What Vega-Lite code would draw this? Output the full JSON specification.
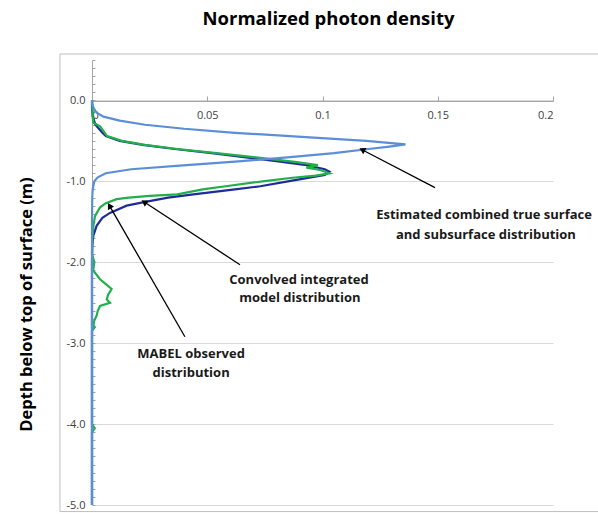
{
  "$schema": "https://vega.github.io/schema/vega-lite/v6.json",
  "width": 461,
  "height": 445,
  "autosize": "none",
  "padding": {"left": 92, "top": 60, "right": 45, "bottom": 9},
  "background": "white",
  "config": {"view": {"stroke": null}, "font": "Open Sans"},
  "title": {"text": "Normalized photon density", "font": "Open Sans", "fontSize": 18.5, "fontWeight": "bold", "color": "#000000", "anchor": "middle", "dx": 6, "offset": 25},
  "resolve": {"axis": {"x": "independent", "y": "independent"}},
  "datasets": {
    "curves": [
        {"series": "Estimated", "depth": 0, "density": 0},
        {"series": "Estimated", "depth": -0.05, "density": 0.0002},
        {"series": "Estimated", "depth": -0.1, "density": 0.0008},
        {"series": "Estimated", "depth": -0.15, "density": 0.002},
        {"series": "Estimated", "depth": -0.2, "density": 0.005},
        {"series": "Estimated", "depth": -0.25, "density": 0.012},
        {"series": "Estimated", "depth": -0.3, "density": 0.023},
        {"series": "Estimated", "depth": -0.35, "density": 0.04},
        {"series": "Estimated", "depth": -0.4, "density": 0.062},
        {"series": "Estimated", "depth": -0.45, "density": 0.091},
        {"series": "Estimated", "depth": -0.5, "density": 0.119},
        {"series": "Estimated", "depth": -0.543, "density": 0.136},
        {"series": "Estimated", "depth": -0.57, "density": 0.129},
        {"series": "Estimated", "depth": -0.6, "density": 0.12},
        {"series": "Estimated", "depth": -0.65, "density": 0.105},
        {"series": "Estimated", "depth": -0.7, "density": 0.086},
        {"series": "Estimated", "depth": -0.75, "density": 0.065},
        {"series": "Estimated", "depth": -0.8, "density": 0.041},
        {"series": "Estimated", "depth": -0.85, "density": 0.017},
        {"series": "Estimated", "depth": -0.9, "density": 0.006},
        {"series": "Estimated", "depth": -0.95, "density": 0.0025},
        {"series": "Estimated", "depth": -1.0, "density": 0.001},
        {"series": "Estimated", "depth": -1.1, "density": 0.0003},
        {"series": "Estimated", "depth": -1.2, "density": 0.0001},
        {"series": "Estimated", "depth": -1.5, "density": 0},
        {"series": "Estimated", "depth": -5.0, "density": 0},
        {"series": "Convolved", "depth": 0, "density": 0},
        {"series": "Convolved", "depth": -0.1, "density": 0},
        {"series": "Convolved", "depth": -0.2, "density": 0.0003},
        {"series": "Convolved", "depth": -0.3, "density": 0.0015},
        {"series": "Convolved", "depth": -0.35, "density": 0.003},
        {"series": "Convolved", "depth": -0.4, "density": 0.0045},
        {"series": "Convolved", "depth": -0.44, "density": 0.006},
        {"series": "Convolved", "depth": -0.5, "density": 0.012},
        {"series": "Convolved", "depth": -0.55, "density": 0.022},
        {"series": "Convolved", "depth": -0.6, "density": 0.036},
        {"series": "Convolved", "depth": -0.65, "density": 0.052},
        {"series": "Convolved", "depth": -0.7, "density": 0.066},
        {"series": "Convolved", "depth": -0.75, "density": 0.08},
        {"series": "Convolved", "depth": -0.8, "density": 0.093},
        {"series": "Convolved", "depth": -0.85, "density": 0.101},
        {"series": "Convolved", "depth": -0.88, "density": 0.103},
        {"series": "Convolved", "depth": -0.92, "density": 0.101},
        {"series": "Convolved", "depth": -0.96, "density": 0.093},
        {"series": "Convolved", "depth": -1.0, "density": 0.085},
        {"series": "Convolved", "depth": -1.06, "density": 0.073},
        {"series": "Convolved", "depth": -1.1, "density": 0.062},
        {"series": "Convolved", "depth": -1.16, "density": 0.044},
        {"series": "Convolved", "depth": -1.2, "density": 0.033},
        {"series": "Convolved", "depth": -1.26, "density": 0.022},
        {"series": "Convolved", "depth": -1.3, "density": 0.015},
        {"series": "Convolved", "depth": -1.39, "density": 0.0078},
        {"series": "Convolved", "depth": -1.45, "density": 0.0045},
        {"series": "Convolved", "depth": -1.55, "density": 0.002},
        {"series": "Convolved", "depth": -1.67, "density": 0.0006},
        {"series": "Convolved", "depth": -1.8, "density": 0.0001},
        {"series": "Convolved", "depth": -2.0, "density": 0},
        {"series": "Convolved", "depth": -5.0, "density": 0},
        {"series": "MABEL", "depth": 0, "density": 0},
        {"series": "MABEL", "depth": -0.2, "density": 0.0003},
        {"series": "MABEL", "depth": -0.275, "density": 0.0006},
        {"series": "MABEL", "depth": -0.32, "density": 0.0035},
        {"series": "MABEL", "depth": -0.38, "density": 0.005},
        {"series": "MABEL", "depth": -0.44, "density": 0.0065},
        {"series": "MABEL", "depth": -0.5, "density": 0.013},
        {"series": "MABEL", "depth": -0.55, "density": 0.023},
        {"series": "MABEL", "depth": -0.6, "density": 0.037},
        {"series": "MABEL", "depth": -0.65, "density": 0.054},
        {"series": "MABEL", "depth": -0.71, "density": 0.073},
        {"series": "MABEL", "depth": -0.76, "density": 0.088},
        {"series": "MABEL", "depth": -0.8, "density": 0.098},
        {"series": "MABEL", "depth": -0.83, "density": 0.093},
        {"series": "MABEL", "depth": -0.86, "density": 0.099},
        {"series": "MABEL", "depth": -0.9, "density": 0.103},
        {"series": "MABEL", "depth": -0.93, "density": 0.097},
        {"series": "MABEL", "depth": -0.955, "density": 0.087},
        {"series": "MABEL", "depth": -1.0, "density": 0.074},
        {"series": "MABEL", "depth": -1.06, "density": 0.058},
        {"series": "MABEL", "depth": -1.1, "density": 0.048},
        {"series": "MABEL", "depth": -1.16, "density": 0.037},
        {"series": "MABEL", "depth": -1.18, "density": 0.025},
        {"series": "MABEL", "depth": -1.2, "density": 0.016},
        {"series": "MABEL", "depth": -1.22, "density": 0.0107},
        {"series": "MABEL", "depth": -1.27, "density": 0.006},
        {"series": "MABEL", "depth": -1.32, "density": 0.0035},
        {"series": "MABEL", "depth": -1.43, "density": 0.0013},
        {"series": "MABEL", "depth": -1.55, "density": 0.0006},
        {"series": "MABEL", "depth": -1.7, "density": 0.0002},
        {"series": "MABEL", "depth": -1.9, "density": 0},
        {"series": "MABEL", "depth": -2.0, "density": 0.001},
        {"series": "MABEL", "depth": -2.1, "density": 0.0005},
        {"series": "MABEL", "depth": -2.21, "density": 0.0035},
        {"series": "MABEL", "depth": -2.27, "density": 0.006},
        {"series": "MABEL", "depth": -2.33, "density": 0.0085},
        {"series": "MABEL", "depth": -2.4, "density": 0.007},
        {"series": "MABEL", "depth": -2.46, "density": 0.0064},
        {"series": "MABEL", "depth": -2.5, "density": 0.0078},
        {"series": "MABEL", "depth": -2.54, "density": 0.0035},
        {"series": "MABEL", "depth": -2.6, "density": 0.0025},
        {"series": "MABEL", "depth": -2.66, "density": 0.002},
        {"series": "MABEL", "depth": -2.72, "density": 0.001},
        {"series": "MABEL", "depth": -2.78, "density": 0.0006},
        {"series": "MABEL", "depth": -2.8, "density": 0.0012},
        {"series": "MABEL", "depth": -2.85, "density": 0},
        {"series": "MABEL", "depth": -4.0, "density": 0},
        {"series": "MABEL", "depth": -4.05, "density": 0.0012},
        {"series": "MABEL", "depth": -4.1, "density": 0},
        {"series": "MABEL", "depth": -5.0, "density": 0}
    ],
    "arrows": [
        {"hx": 0.1176, "hy": -0.615, "tx": 0.1488, "ty": -1.077},
        {"hx": 0.023, "hy": -1.262, "tx": 0.0642, "ty": -2.03},
        {"hx": 0.0078, "hy": -1.312, "tx": 0.0403, "ty": -2.921}
    ]
  },
  "layer": [
    {
      "data": {"values": [{"x1": -0.0139, "x2": 0.2204, "y1": 0.574, "y2": -5.081}]},
      "mark": {"type": "rect", "fillOpacity": 0, "stroke": "#BFBFBF", "strokeWidth": 1},
      "encoding": {
        "x": {"field": "x1", "type": "quantitative", "scale": {"domain": [0, 0.2], "nice": false, "zero": false}, "axis": null},
        "x2": {"field": "x2"},
        "y": {"field": "y1", "type": "quantitative", "scale": {"domain": [-5, 0.5], "nice": false, "zero": false},
          "axis": {"orient": "right", "offset": -461, "values": [0.5,0.4,0.3,0.2,0.1,0,-0.1,-0.2,-0.3,-0.4,-0.5,-0.6,-0.7,-0.8,-0.9,-1,-1.1,-1.2,-1.3,-1.4,-1.5,-1.6,-1.7,-1.8,-1.9,-2,-2.1,-2.2,-2.3,-2.4,-2.5,-2.6,-2.7,-2.8,-2.9,-3,-3.1,-3.2,-3.3,-3.4,-3.5,-3.6,-3.7,-3.8,-3.9,-4,-4.1,-4.2,-4.3,-4.4,-4.5,-4.6,-4.7,-4.8,-4.9,-5], "labels": false, "domain": false, "grid": false, "tickSize": 3, "tickColor": "#A6A6A6", "tickWidth": 1, "title": null}},
        "y2": {"field": "y2"}
      }
    },
    {
      "data": {"name": "curves"},
      "transform": [{"filter": "datum.series == 'Convolved'"}],
      "mark": {"type": "line", "strokeWidth": 2.2, "color": "#1F2C98"},
      "encoding": {
        "x": {"field": "density", "type": "quantitative", "scale": {"domain": [0, 0.2], "nice": false, "zero": false},
          "axis": {"orient": "top", "offset": -41, "values": [0, 0.05, 0.1, 0.15, 0.2], "labelExpr": "toString(datum.value)", "domainColor": "#A6A6A6", "tickColor": "#A6A6A6", "tickSize": 5, "labelPadding": -24, "labelFont": "Open Sans", "labelFontSize": 11, "labelColor": "#404040", "grid": false, "title": null}},
        "y": {"field": "depth", "type": "quantitative", "scale": {"domain": [-5, 0.5], "nice": false, "zero": false},
          "axis": {"orient": "left", "values": [0, -1, -2, -3, -4, -5], "labelExpr": "datum.value == 0 ? '0.0' : '-' + format(-datum.value, '.1f')", "ticks": false, "labelPadding": 7, "labelFont": "Open Sans", "labelFontSize": 11, "labelColor": "#404040", "domainColor": "#A6A6A6", "grid": true, "gridColor": "#D9D9D9", "gridWidth": 1,
            "title": "Depth below top of surface (m)", "titleFont": "Open Sans", "titleFontSize": 16.5, "titleFontWeight": "bold", "titleColor": "#000000", "titleAngle": 270, "titleX": -61, "titleY": 244, "titleAlign": "center", "titleBaseline": "alphabetic"}},
        "order": {"field": "depth", "type": "quantitative", "sort": "descending"}
      }
    },
    {
      "data": {"name": "curves"},
      "transform": [{"filter": "datum.series == 'MABEL'"}],
      "mark": {"type": "line", "strokeWidth": 2.2, "color": "#22AE4B"},
      "encoding": {
        "x": {"field": "density", "type": "quantitative", "axis": null},
        "y": {"field": "depth", "type": "quantitative", "axis": null},
        "order": {"field": "depth", "type": "quantitative", "sort": "descending"}
      }
    },
    {
      "data": {"name": "curves"},
      "transform": [{"filter": "datum.series == 'Estimated'"}],
      "mark": {"type": "line", "strokeWidth": 2.2, "color": "#5B8ED8"},
      "encoding": {
        "x": {"field": "density", "type": "quantitative", "axis": null},
        "y": {"field": "depth", "type": "quantitative", "axis": null},
        "order": {"field": "depth", "type": "quantitative", "sort": "descending"}
      }
    },
    {
      "data": {"name": "arrows"},
      "mark": {"type": "rule", "color": "#000000", "strokeWidth": 1.3},
      "encoding": {
        "x": {"field": "hx", "type": "quantitative", "axis": null},
        "y": {"field": "hy", "type": "quantitative", "axis": null},
        "x2": {"field": "tx"},
        "y2": {"field": "ty"}
      }
    },
    {
      "data": {"name": "arrows"},
      "transform": [{"calculate": "atan2((datum.hx - datum.tx) * 2305, (datum.hy - datum.ty) * 80.9) * 180 / PI", "as": "ang"}],
      "mark": {"type": "point", "shape": "triangle", "filled": true, "color": "#000000", "size": 50, "opacity": 1},
      "encoding": {
        "x": {"field": "hx", "type": "quantitative", "axis": null},
        "y": {"field": "hy", "type": "quantitative", "axis": null},
        "angle": {"field": "ang", "type": "quantitative", "scale": null}
      }
    },
    {
      "data": {"values": [
        {"tx": 0.1701, "ty": -1.411, "label": "Estimated combined true surface"},
        {"tx": 0.1709, "ty": -1.658, "label": "and subsurface distribution"},
        {"tx": 0.0898, "ty": -2.215, "label": "Convolved integrated"},
        {"tx": 0.0902, "ty": -2.438, "label": "model distribution"},
        {"tx": 0.043, "ty": -3.131, "label": "MABEL observed"},
        {"tx": 0.043, "ty": -3.366, "label": "distribution"}
      ]},
      "mark": {"type": "text", "font": "Open Sans", "fontSize": 13, "fontWeight": "bold", "color": "#1A1A1A", "align": "center", "baseline": "middle"},
      "encoding": {
        "x": {"field": "tx", "type": "quantitative", "axis": null},
        "y": {"field": "ty", "type": "quantitative", "axis": null},
        "text": {"field": "label"}
      }
    }
  ]
}
